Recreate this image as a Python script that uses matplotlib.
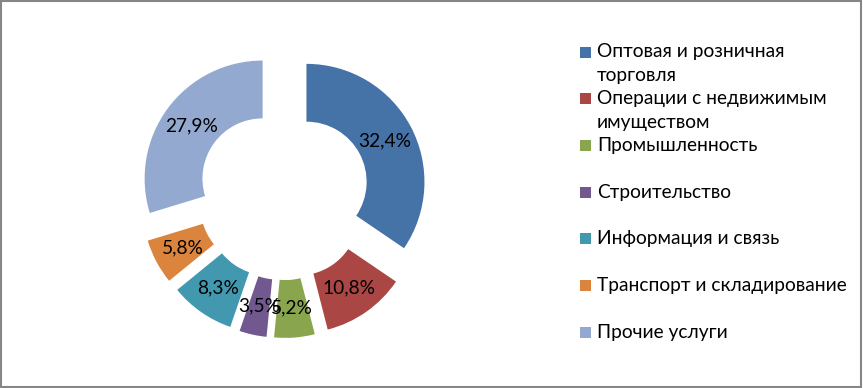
import matplotlib
matplotlib.use("Agg")
import matplotlib.pyplot as plt
from matplotlib.patches import Rectangle

plt.rcParams['font.family'] = ['Lato', 'DejaVu Sans']

categories = ["Оптовая и розничная\nторговля",
              "Операции с недвижимым\nимуществом",
              "Промышленность",
              "Строительство",
              "Информация и связь",
              "Транспорт и складирование",
              "Прочие услуги"]
values = [32.4, 10.8, 5.2, 3.5, 8.3, 5.8, 27.9]
colors = ["#4572A7", "#AA4643", "#89A54E", "#71588F", "#4198AF", "#DB843D", "#93A9CF"]

W, H = 863, 388
fig = plt.figure(figsize=(W / 100, H / 100), dpi=100)

# pie axes: centre at (283, 194) px from top-left, radius 118 px
R = 118
L = 1.5
size = 2 * L * R
cx, cy = 283.5, 194
ax = fig.add_axes([(cx - size / 2) / W, (H - cy - size / 2) / H, size / W, size / H])
total = sum(values)

def fmt(p):
    return f"{p * total / 100:.1f}%".replace(".", ",")

wedges, texts, autotexts = ax.pie(values, colors=colors, startangle=90, counterclock=False,
                                  explode=[0.22] * len(values), radius=1,
                                  wedgeprops=dict(width=0.49, linewidth=0),
                                  autopct=fmt, pctdistance=0.75,
                                  textprops=dict(fontsize=13.8, color="black"))
ax.set_xlim(-L, L)
ax.set_ylim(-L, L)
ax.set_aspect("auto")
ax.axis("off")

# legend drawn manually
y0, dy, line_gap = 52, 46.7, 24
for i, (cat, col) in enumerate(zip(categories, colors)):
    yc = y0 + dy * i
    fig.patches.append(Rectangle((580 / W, 1 - (yc + 5.5) / H), 11 / W, 11 / H,
                                 transform=fig.transFigure, facecolor=col, edgecolor="none"))
    for j, line in enumerate(cat.split("\n")):
        fig.text(597 / W, 1 - (yc + j * line_gap) / H, line, fontsize=13.8,
                 va="center", ha="left", color="black")

# chart border
fig.patches.append(Rectangle((0.5 / W, 1.5 / H), (W - 2.5) / W, (H - 2.5) / H,
                             transform=fig.transFigure, facecolor="none",
                             edgecolor="#868686", linewidth=1.5))

fig.savefig("out.png", dpi=100)
